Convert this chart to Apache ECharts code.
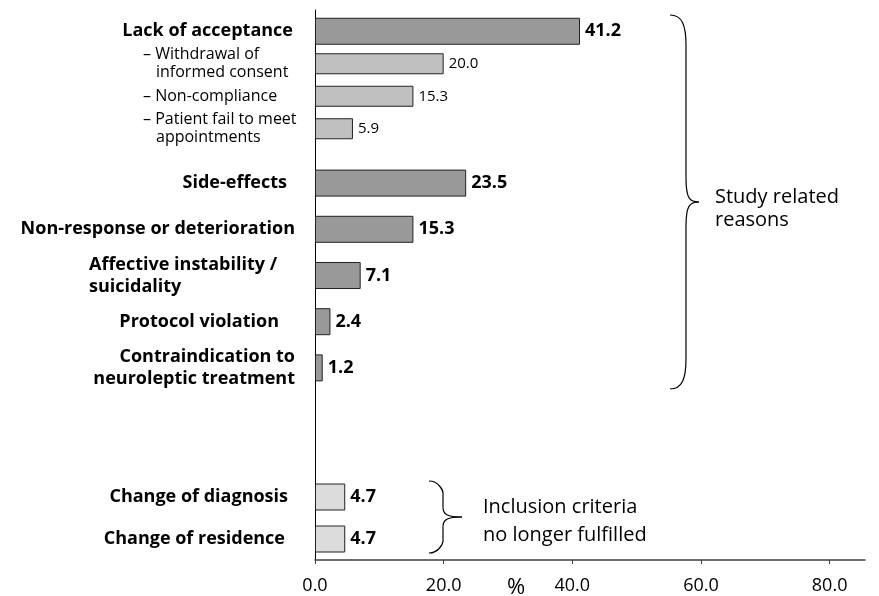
<!DOCTYPE html>
<html>
<head>
<meta charset="utf-8">
<script src="https://cdn.jsdelivr.net/npm/echarts@6/dist/echarts.min.js"></script>
<style>
html,body{margin:0;padding:0;background:#fff}
#main{width:879px;height:596px}
</style>
</head>
<body>
<div id="main"></div>
<script>
// lack of acceptance and its sub reasons
var topCats = ['Lack of acceptance', '– Withdrawal of\ninformed consent', '– Non-compliance', '– Patient fail to meet\nappointments'];
var topMain = [41.2, '-', '-', '-'];
var topSub = ['-', 20.0, 15.3, 5.9];
// other study related reasons
var midCats = ['Side-effects', 'Non-response or deterioration', 'Affective instability /\nsuicidality', 'Protocol violation', 'Contraindication to\nneuroleptic treatment'];
var midVals = [23.5, 15.3, 7.1, 2.4, 1.2];
// inclusion criteria no longer fulfilled
var lowCats = ['Change of diagnosis', 'Change of residence'];
var lowVals = [4.7, 4.7];
// x axis
var xTicks = [0, 20, 40, 60, 80];
var xMax = 85.5;

var FONT = '"Open Sans", sans-serif';
var chart = echarts.init(document.getElementById('main'));

function hiddenX(i) {
	return {gridIndex: i, type: 'value', min: 0, max: xMax, show: false};
}
function catY(i, data, extra) {
	var o = {
		gridIndex: i, type: 'category', inverse: true, data: data, position: 'left',
		axisLine: {show: false}, axisTick: {show: false}, splitLine: {show: false}
	};
	for (var k in extra) o[k] = extra[k];
	return o;
}
function valLabel(bold, size) {
	return {
		show: true, position: 'right', distance: 5, color: '#000',
		fontFamily: FONT, fontWeight: bold ? 'bold' : 'normal', fontSize: size,
		formatter: function (p) { return p.value.toFixed(1); }
	};
}
// curly brace: x0 = open ends, xs = spine, xt = tip, y0 top, ym tip, y1 bottom, r curl size
function brace(x0, xs, xt, y0, ym, y1, r) {
	var ln = {stroke: '#000', lineWidth: 1.2, fill: 'none'};
	var h = r * 0.8;
	function bz(a, b, c, d, e, f, g, k) {
		return {type: 'bezierCurve', silent: true, shape: {x1: a, y1: b, cpx1: c, cpy1: d, cpx2: e, cpy2: f, x2: g, y2: k}, style: ln};
	}
	function li(a, b, c, d) {
		return {type: 'line', silent: true, shape: {x1: a, y1: b, x2: c, y2: d}, style: ln};
	}
	return [
		bz(x0, y0, xs - 4, y0, xs, y0 + 10, xs, y0 + r),
		li(xs, y0 + r, xs, ym - h),
		bz(xs, ym - h, xs, ym - 3, xs + 4, ym, xt, ym),
		bz(xt, ym, xs + 4, ym, xs, ym + 3, xs, ym + h),
		li(xs, ym + h, xs, y1 - r),
		bz(xs, y1 - r, xs, y1 - 10, xs - 4, y1, x0, y1)
	];
}

var B = 18; // bold label size

var option = {
	backgroundColor: '#fff',
	animation: false,
	grid: [
		{left: 315, right: 14, top: 10, bottom: 36},
		{left: 315, right: 14, top: 15, height: 130},
		{left: 315, right: 14, top: 160, height: 231},
		{left: 315, right: 14, top: 476, height: 84}
	],
	xAxis: [
		{
			gridIndex: 0, type: 'value', min: xTicks[0], max: xMax, interval: xTicks[1] - xTicks[0],
			axisLine: {show: true, lineStyle: {color: '#404040', width: 1.5}},
			axisTick: {show: true, length: 4, customValues: xTicks, lineStyle: {color: '#404040'}},
			axisLabel: {
				customValues: xTicks, margin: 17, color: '#000', fontFamily: FONT, fontSize: 18,
				formatter: function (v) { return Number(v).toFixed(1); }
			},
			splitLine: {show: false}
		},
		hiddenX(1), hiddenX(2), hiddenX(3)
	],
	yAxis: [
		{
			gridIndex: 0, type: 'value', min: 0, max: 1,
			axisLine: {show: true, lineStyle: {color: '#000', width: 1}},
			axisTick: {show: false}, axisLabel: {show: false}, splitLine: {show: false}
		},
		catY(1, topCats, {
			axisLabel: {
				margin: 17, color: '#000', fontFamily: FONT,
				formatter: function (v, i) {
					if (i === 0) return '{m|' + v + '}';
					var ls = v.split('\n');
					var s = '{s|' + ls[0] + '}';
					for (var j = 1; j < ls.length; j++) s += '\n{i|' + ls[j] + '}';
					return s;
				},
				rich: {
					m: {fontFamily: FONT, fontWeight: 'bold', fontSize: B, padding: [0, 5, 0, 0]},
					s: {fontFamily: FONT, fontSize: 16, width: 155, align: 'left', lineHeight: 18},
					i: {fontFamily: FONT, fontSize: 16, width: 142, padding: [0, 0, 0, 13], align: 'left', lineHeight: 18}
				}
			}
		}),
		catY(1, topCats, {show: false}),
		catY(2, midCats, {
			axisLabel: {
				margin: 20, color: '#000', fontFamily: FONT,
				formatter: function (v, i) {
					var st = ['a', 'b', 'c', 'd', 'b'][i];
					return v.split('\n').map(function (l) { return '{' + st + '|' + l + '}'; }).join('\n');
				},
				rich: {
					a: {fontFamily: FONT, fontWeight: 'bold', fontSize: B, lineHeight: 22, padding: [0, 8, 0, 0]},
					b: {fontFamily: FONT, fontWeight: 'bold', fontSize: B, lineHeight: 22},
					c: {fontFamily: FONT, fontWeight: 'bold', fontSize: B, lineHeight: 22, width: 194, align: 'left', padding: [0, 12, 0, 0]},
					d: {fontFamily: FONT, fontWeight: 'bold', fontSize: B, lineHeight: 22, padding: [0, 16, 0, 0]}
				}
			}
		}),
		catY(3, lowCats, {
			axisLabel: {
				margin: 27, color: '#000', fontFamily: FONT,
				formatter: function (v, i) { return (i === 0 ? '{a|' : '{b|') + v + '}'; },
				rich: {
					a: {fontFamily: FONT, fontWeight: 'bold', fontSize: B},
					b: {fontFamily: FONT, fontWeight: 'bold', fontSize: B, padding: [0, 3, 0, 0]}
				}
			}
		})
	],
	series: [
		{
			type: 'bar', xAxisIndex: 1, yAxisIndex: 1, data: topMain, barWidth: 27,
			itemStyle: {color: '#999999', borderColor: '#222', borderWidth: 1},
			label: valLabel(true, B)
		},
		{
			type: 'bar', xAxisIndex: 1, yAxisIndex: 2, data: topSub, barWidth: 21,
			itemStyle: {color: '#c0c0c0', borderColor: '#222', borderWidth: 1},
			label: valLabel(false, 15)
		},
		{
			type: 'bar', xAxisIndex: 2, yAxisIndex: 3, data: midVals, barWidth: 27,
			itemStyle: {color: '#999999', borderColor: '#222', borderWidth: 1},
			label: valLabel(true, B)
		},
		{
			type: 'bar', xAxisIndex: 3, yAxisIndex: 4, data: lowVals, barWidth: 27,
			itemStyle: {color: '#dcdcdc', borderColor: '#222', borderWidth: 1},
			label: valLabel(true, B)
		}
	],
	graphic: brace(670, 686, 699, 15, 202, 389, 30).concat(brace(429, 443, 462, 481, 517, 553, 12)).concat([
		{
			type: 'text', left: 715, top: 186, silent: true,
			style: {text: 'Study related\nreasons', font: '20px ' + FONT, fill: '#000', lineHeight: 23}
		},
		{
			type: 'text', left: 483, top: 493, silent: true,
			style: {text: 'Inclusion criteria\nno longer fulfilled', font: '20px ' + FONT, fill: '#000', lineHeight: 28}
		},
		{
			type: 'text', left: 507, top: 577, silent: true,
			style: {text: '%', font: '22px ' + FONT, fill: '#000'}
		}
	])
};
chart.setOption(option);
</script>
</body>
</html>
